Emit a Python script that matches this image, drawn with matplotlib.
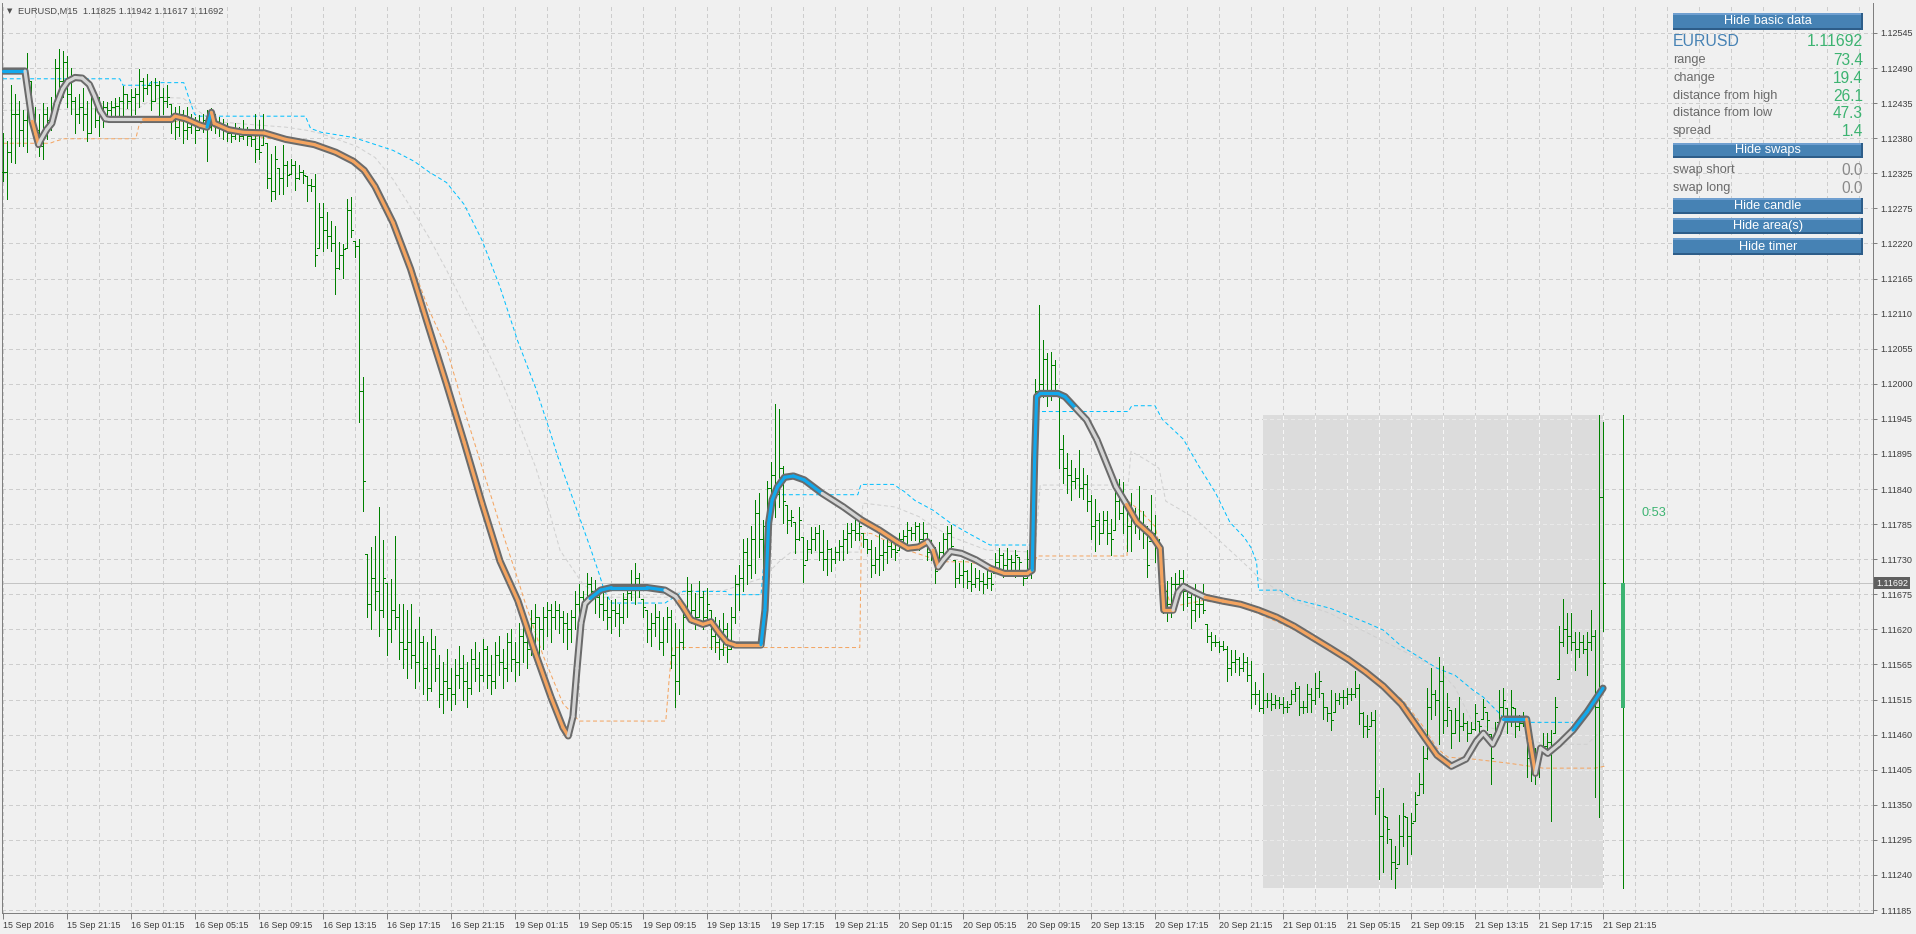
import numpy as np
import matplotlib
matplotlib.use("Agg")
import matplotlib.pyplot as plt
import matplotlib.transforms as mtransforms
from matplotlib.collections import LineCollection
from matplotlib.patches import Rectangle

plt.rcParams['font.family'] = ['Liberation Sans', 'DejaVu Sans']

# all prices are in points (0.00001) above BASE
BASE = 1.11

# M15 bars, index 0 = 15 Sep 17:15
high = [
    1390, 1378, 1465, 1450, 1440, 1425, 1514, 1470, 1430, 1420,
    1437, 1430, 1445, 1505, 1520, 1517, 1510, 1490, 1445, 1450,
    1460, 1440, 1465, 1450, 1445, 1440, 1438, 1440, 1444, 1446,
    1463, 1450, 1458, 1460, 1489, 1475, 1482, 1470, 1475, 1470,
    1460, 1465, 1435, 1430, 1432, 1425, 1430, 1420, 1415, 1418,
    1420, 1425, 1428, 1420, 1415, 1412, 1405, 1400, 1405, 1400,
    1410, 1400, 1395, 1420, 1410, 1420, 1374, 1358, 1369, 1335,
    1372, 1346, 1349, 1346, 1341, 1332, 1324, 1318, 1327, 1282,
    1282, 1268, 1254, 1246, 1221, 1218, 1288, 1290, 1223, 1226,
    1011, 737, 748, 765, 810, 759, 692, 698, 765, 660,
    660, 650, 660, 620, 640, 610, 600, 620, 610, 580,
    570, 590, 560, 575, 595, 580, 570, 590, 600, 585,
    605, 595, 580, 600, 610, 590, 615, 620, 600, 630,
    640, 625, 650, 660, 640, 655, 662, 660, 664, 660,
    648, 645, 650, 680, 690, 679, 707, 702, 697, 676,
    676, 670, 665, 668, 660, 676, 690, 712, 723, 707,
    668, 650, 645, 660, 648, 640, 655, 650, 630, 620,
    660, 702, 690, 676, 695, 680, 685, 650, 640, 635,
    645, 630, 655, 705, 720, 761, 762, 780, 821, 831,
    790, 850, 880, 969, 962, 873, 813, 805, 787, 810,
    764, 759, 779, 779, 782, 774, 759, 746, 748, 759,
    774, 785, 785, 790, 795, 769, 761, 759, 748, 769,
    759, 761, 759, 754, 769, 774, 787, 779, 787, 785,
    787, 769, 759, 748, 756, 769, 780, 782, 728, 723,
    728, 712, 723, 715, 712, 707, 712, 707, 738, 746,
    738, 746, 736, 743, 733, 712, 743, 760, 1009, 1123,
    1069, 1048, 1051, 1038, 990, 922, 893, 883, 870, 898,
    870, 859, 828, 822, 800, 803, 803, 791, 842, 853,
    848, 822, 831, 808, 842, 803, 780, 828, 797, 760,
    724, 695, 701, 707, 712, 712, 690, 678, 690, 678,
    690, 628, 616, 611, 602, 602, 594, 588, 588, 577,
    583, 577, 571, 538, 526, 552, 521, 521, 518, 515,
    515, 509, 526, 538, 532, 509, 535, 529, 552, 555,
    521, 500, 526, 521, 521, 526, 529, 529, 555, 535,
    492, 487, 492, 495, 371, 374, 329, 295, 284, 332,
    351, 329, 335, 368, 397, 439, 529, 560, 526, 577,
    563, 521, 495, 498, 515, 490, 478, 476, 504, 478,
    512, 492, 458, 476, 526, 529, 498, 526, 498, 487,
    492, 464, 436, 436, 436, 459, 459, 464, 515, 625,
    667, 645, 645, 616, 616, 611, 616, 650, 619, 953,
    942,
]
low = [
    1315, 1287, 1345, 1343, 1370, 1370, 1360, 1405, 1380, 1355,
    1350, 1380, 1395, 1420, 1440, 1445, 1430, 1420, 1390, 1405,
    1395, 1378, 1390, 1400, 1385, 1400, 1412, 1410, 1415, 1418,
    1418, 1428, 1417, 1420, 1430, 1440, 1450, 1425, 1440, 1410,
    1420, 1430, 1390, 1380, 1385, 1375, 1380, 1390, 1375, 1395,
    1392, 1346, 1395, 1390, 1385, 1380, 1378, 1376, 1380, 1378,
    1380, 1372, 1370, 1345, 1350, 1372, 1304, 1285, 1288, 1296,
    1296, 1307, 1327, 1302, 1318, 1313, 1285, 1300, 1184, 1212,
    1207, 1212, 1207, 1140, 1179, 1165, 1212, 1229, 1198, 941,
    804, 640, 620, 650, 610, 640, 580, 600, 620, 575,
    560, 545, 560, 530, 540, 520, 510, 525, 540, 500,
    490, 510, 495, 505, 530, 510, 500, 520, 540, 525,
    540, 530, 520, 530, 550, 530, 540, 555, 540, 550,
    570, 560, 580, 590, 580, 590, 610, 600, 620, 615,
    600, 590, 600, 620, 630, 630, 660, 665, 645, 640,
    635, 620, 615, 625, 610, 630, 640, 665, 660, 670,
    640, 600, 595, 610, 590, 580, 600, 560, 500, 520,
    590, 640, 630, 620, 640, 620, 630, 590, 585, 575,
    580, 570, 590, 630, 650, 680, 690, 700, 707, 733,
    707, 760, 780, 795, 810, 785, 770, 780, 738, 759,
    694, 728, 738, 743, 728, 712, 704, 710, 723, 728,
    728, 738, 748, 759, 759, 748, 738, 702, 707, 704,
    712, 723, 733, 728, 743, 748, 754, 759, 759, 743,
    748, 728, 728, 692, 720, 733, 743, 743, 686, 692,
    686, 684, 679, 686, 681, 676, 684, 681, 707, 715,
    702, 707, 704, 702, 707, 689, 700, 700, 740, 981,
    981, 966, 976, 991, 870, 847, 831, 821, 840, 826,
    823, 803, 760, 741, 752, 769, 752, 735, 774, 791,
    769, 741, 741, 769, 760, 746, 701, 757, 724, 718,
    645, 633, 639, 678, 678, 650, 656, 622, 633, 639,
    645, 600, 588, 594, 585, 588, 540, 549, 554, 549,
    555, 540, 498, 504, 493, 490, 500, 495, 498, 498,
    490, 492, 504, 509, 487, 490, 492, 492, 504, 515,
    481, 478, 464, 492, 504, 498, 504, 510, 515, 473,
    453, 453, 470, 334, 233, 244, 289, 233, 219, 256,
    284, 256, 272, 323, 363, 366, 419, 481, 487, 442,
    459, 470, 436, 459, 447, 464, 447, 459, 464, 459,
    481, 464, 380, 442, 476, 484, 459, 470, 453, 464,
    470, 391, 385, 380, 391, 430, 430, 323, 459, 543,
    594, 583, 588, 557, 577, 583, 549, 588, 360, 329,
    617,
]
close = [
    1330, 1360, 1420, 1420, 1395, 1410, 1470, 1420, 1395, 1370,
    1420, 1410, 1425, 1490, 1470, 1500, 1450, 1440, 1420, 1430,
    1420, 1390, 1445, 1410, 1425, 1430, 1425, 1430, 1432, 1440,
    1450, 1440, 1445, 1450, 1470, 1460, 1465, 1440, 1465, 1445,
    1440, 1445, 1410, 1400, 1420, 1395, 1400, 1410, 1395, 1405,
    1410, 1400, 1420, 1400, 1400, 1395, 1390, 1385, 1392, 1385,
    1395, 1385, 1380, 1365, 1360, 1390, 1320, 1300, 1350, 1320,
    1340, 1325, 1340, 1320, 1330, 1325, 1310, 1308, 1200, 1260,
    1240, 1230, 1220, 1180, 1200, 1210, 1270, 1240, 1215, 990,
    850, 660, 700, 680, 650, 700, 620, 650, 640, 600,
    590, 600, 580, 570, 600, 560, 530, 590, 560, 520,
    540, 530, 520, 550, 560, 540, 530, 575, 560, 550,
    590, 550, 540, 580, 570, 560, 600, 575, 570, 610,
    600, 590, 630, 640, 620, 640, 650, 640, 650, 640,
    630, 620, 640, 660, 670, 660, 690, 680, 670, 660,
    650, 640, 650, 645, 640, 668, 676, 690, 700, 690,
    655, 620, 630, 640, 600, 620, 640, 580, 540, 600,
    640, 680, 650, 640, 670, 640, 660, 610, 600, 590,
    620, 590, 640, 690, 700, 740, 720, 760, 800, 760,
    780, 840, 860, 830, 870, 820, 790, 795, 760, 790,
    720, 745, 760, 770, 740, 730, 745, 730, 740, 750,
    760, 770, 775, 770, 780, 760, 745, 720, 730, 735,
    740, 750, 745, 740, 760, 765, 775, 770, 780, 760,
    770, 740, 745, 710, 740, 760, 770, 750, 700, 705,
    710, 695, 690, 700, 695, 690, 700, 690, 725, 735,
    720, 730, 725, 735, 725, 700, 730, 750, 990, 1000,
    1040, 990, 1030, 1000, 900, 870, 860, 850, 855, 840,
    845, 820, 780, 790, 770, 790, 770, 760, 820, 800,
    820, 780, 790, 790, 780, 770, 720, 770, 750, 740,
    680, 660, 690, 690, 700, 680, 670, 650, 660, 660,
    650, 610, 600, 600, 595, 590, 560, 570, 575, 560,
    570, 550, 520, 520, 498, 510, 510, 505, 510, 505,
    500, 500, 520, 530, 500, 500, 520, 510, 530, 540,
    500, 490, 480, 510, 515, 515, 520, 520, 530, 490,
    470, 465, 480, 360, 300, 330, 310, 260, 250, 300,
    330, 300, 320, 350, 380, 420, 500, 520, 510, 540,
    480, 500, 460, 480, 470, 475, 460, 465, 490, 470,
    500, 480, 420, 460, 500, 510, 480, 500, 470, 475,
    480, 420, 410, 400, 420, 440, 445, 440, 500, 600,
    620, 610, 600, 590, 600, 590, 600, 610, 500, 825,
    692,
]

# thick trend line: vertices (bar index, points) and core colour of each segment
ma_x = [0, 5.5, 6.4, 7.3, 8.2, 8.9, 9.5, 10.9, 12.2, 13.5, 14.9, 16.2, 18, 19.8, 21.6, 22.9, 24.25,
        25.6, 26.5, 34.9, 42.1, 43, 45.7, 49.25, 51, 52.1, 52.8, 56.4, 60, 65.3, 70.7, 77.8, 83.2,
        87.6, 90.3, 93, 97.5, 101.9, 106.4, 110.9, 115.3, 119.8, 124.25, 128.7, 133, 137, 140,
        141.3, 142.5, 143.5, 144.5, 145.5, 146.75, 149.4, 152.1, 161, 165.5, 168.2, 169, 170, 172,
        175, 177, 179, 181, 183, 189.5, 190.5, 191.4, 192.3, 193.6, 195.4, 197.6, 200.3, 204.8,
        210.1, 214.6, 219.1, 223.5, 226.2, 228.9, 231.1, 232.5, 233.8, 235.1, 236.9, 239.6, 243.2,
        246.75, 250.3, 256.1, 257.3, 257.9, 258.4, 259.3, 263.7, 265.5, 268.2, 270.9, 273.5,
        278.2, 280.9, 283.5, 287.1, 289.3, 289.8, 290.2, 292.5, 293.8, 295.1, 297.8, 300.5, 305,
        309.4, 313.9, 318.4, 322.8, 327.3, 331.8, 336.2, 340.7, 345.1, 349.6, 354.1, 358.5, 362.1,
        365.7, 368.4, 370.1, 372.4, 373.8, 375.1, 380.9, 381.75, 383.1, 384.4, 386.2, 388.9,
        392.5, 396, 400]
ma_pts = [1486, 1486, 1447, 1408, 1388, 1372, 1380, 1395, 1405, 1436, 1458, 1470, 1476, 1475,
          1465, 1447, 1425, 1412, 1411, 1411, 1411, 1416, 1412, 1402, 1399, 1422, 1405, 1395, 1391,
          1390, 1380, 1372, 1360, 1346, 1332, 1307, 1251, 1179, 1089, 1000, 910, 815, 726, 665,
          585, 515, 468, 455, 485, 560, 630, 660, 668, 681, 685, 685, 681, 671, 664, 655, 635, 628,
          632, 615, 600, 596, 596, 650, 785, 821, 841, 856, 858, 852, 831, 810, 790, 774, 756, 746,
          748, 756, 743, 717, 728, 741, 738, 728, 715, 707, 707, 712, 883, 981, 986, 986, 981, 963,
          945, 914, 842, 814, 786, 766, 746, 690, 650, 650, 678, 687, 678, 670, 664, 659, 650, 639,
          625, 608, 591, 574, 554, 532, 504, 464, 425, 408, 419, 447, 459, 442, 459, 481, 481, 447,
          397, 436, 428, 442, 464, 492, 529]
ma_state = ("b" + "gg" + "oo" + "g" * 14 + "o" * 5 + "b" + "o" * 22 + "g" * 5 + "b" * 4 + "gg"
            + "o" * 8 + "b" * 8 + "gg" + "o" * 5 + "g" + "o" + "g" * 5 + "o" * 3 + "b" * 6
            + "g" * 4 + "o" * 6 + "g" * 4 + "o" * 14 + "g" * 6 + "b" + "oo" + "g" * 4 + "bbb")

# upper / lower / middle dotted bands
up_x = [0, 29.2, 30, 36.5, 36.8, 45.2, 46.6, 47.9, 48.8, 75.6, 76.9, 79.6, 87.6, 92.1, 97.5,
        102.8, 106.4, 110.9, 115.3, 119.8, 124.25, 128.7, 133.2, 136.75, 138.7, 143.2, 146.75, 149,
        150.3, 152.1, 165.5, 170, 180.7, 181.5, 189.5, 191, 192.5, 213.7, 214.5, 222.6, 225.3, 228,
        232.5, 236.9, 241.4, 246.75, 257.5, 258.5, 281.3, 282.2, 288, 289.8, 295.1, 298.7, 303.2,
        306.75, 310.3, 312.1, 313.4, 313.9, 319.25, 322.8, 331.75, 340.7, 345.1, 349.6, 354.1,
        358.5, 363, 367.5, 370.1, 372.8, 374.6, 375.5, 392.5]
up_pts = [1474, 1474, 1464, 1464, 1468, 1468, 1442, 1419, 1416, 1416, 1397, 1391, 1383, 1374,
          1363, 1346, 1330, 1313, 1279, 1223, 1151, 1067, 994, 927, 888, 810, 748, 707, 681, 661,
          661, 679, 679, 674, 674, 780, 829, 829, 845, 845, 834, 820, 805, 785, 769, 751, 751, 958,
          958, 967, 967, 946, 915, 876, 831, 786, 763, 746, 724, 681, 681, 667, 653, 631, 619, 594,
          577, 560, 549, 526, 515, 498, 487, 476, 476]
lo_x = [0, 11.75, 13, 15.3, 33.2, 34, 35, 45, 52, 60, 70, 80, 88, 95, 100, 103.7, 106.4, 110.9,
        115.3, 119.8, 124.25, 128.7, 130.3, 135, 140, 142.8, 144, 165.7, 166.5, 167.3, 214.2,
        214.6, 217, 220, 225, 230, 235, 241, 245, 250, 257, 258.5, 281, 281.3, 284.5, 288, 289.3,
        290, 292, 296, 300, 310, 320, 330, 340, 350, 355, 358.5, 361.2, 367.5, 376, 385, 398, 400.5]
lo_pts = [1374, 1374, 1377, 1381, 1381, 1402, 1408, 1408, 1400, 1388, 1378, 1368, 1350, 1290,
          1215, 1162, 1117, 1056, 961, 871, 782, 698, 666, 580, 505, 487, 478, 478, 540, 592, 592,
          769, 769, 760, 745, 735, 725, 725, 720, 708, 706, 734, 734, 819, 803, 780, 746, 700, 655,
          660, 665, 655, 628, 596, 560, 510, 470, 436, 422, 419, 413, 405, 405, 408]
mid_x = [0, 29, 33, 36.8, 40, 45, 48, 49.25, 52.8, 60, 70.7, 76, 79.6, 88.5, 93, 97.5, 102, 106.4,
         111, 115.3, 120, 124.25, 128.7, 133.2, 136.75, 139.25, 145, 150, 166, 170, 180, 190, 194,
         197, 214, 215, 223, 229, 232.5, 237, 246, 258, 259.3, 281.3, 282, 285.5, 289, 290.7,
         294.3, 297.8, 303.2, 307.6, 312.1, 313.9, 322.8, 331.8, 340.7, 349.6, 358.5, 363, 367.5,
         376.4, 385.3, 396, 399.7]
mid_pts = [1425, 1428, 1425, 1440, 1445, 1444, 1430, 1422, 1408, 1404, 1399, 1394, 1389, 1369,
           1352, 1318, 1274, 1229, 1176, 1123, 1067, 1011, 944, 871, 799, 743, 690, 670, 670, 680,
           680, 700, 725, 740, 740, 816, 810, 795, 780, 764, 743, 740, 844, 844, 896, 884, 870,
           819, 806, 793, 763, 738, 712, 700, 664, 645, 616, 588, 560, 530, 475, 460, 442, 442, 464]

time_labels = ['15 Sep 2016', '15 Sep 21:15', '16 Sep 01:15', '16 Sep 05:15', '16 Sep 09:15',
               '16 Sep 13:15', '16 Sep 17:15', '16 Sep 21:15', '19 Sep 01:15', '19 Sep 05:15',
               '19 Sep 09:15', '19 Sep 13:15', '19 Sep 17:15', '19 Sep 21:15', '20 Sep 01:15',
               '20 Sep 05:15', '20 Sep 09:15', '20 Sep 13:15', '20 Sep 17:15', '20 Sep 21:15',
               '21 Sep 01:15', '21 Sep 05:15', '21 Sep 09:15', '21 Sep 13:15', '21 Sep 17:15',
               '21 Sep 21:15']
price_labels = ['1.12545', '1.12490', '1.12435', '1.12380', '1.12325', '1.12275', '1.12220',
                '1.12165', '1.12110', '1.12055', '1.12000', '1.11945', '1.11895', '1.11840',
                '1.11785', '1.11730', '1.11675', '1.11620', '1.11565', '1.11515', '1.11460',
                '1.11405', '1.11350', '1.11295', '1.11240', '1.11185']

day_start = 315      # first bar of 21 Sep
candle_pos = 405     # where the daily candle is drawn
title_text = 'EURUSD,M15  1.11825 1.11942 1.11617 1.11692'
symbol, symbol_price = 'EURUSD', '1.11692'
info_rows = [('range', '73.4'), ('change', '19.4'), ('distance from high', '26.1'),
             ('distance from low', '47.3'), ('spread', '1.4')]
swap_rows = [('swap short', '0.0'), ('swap long', '0.0')]
timer_text = '0:53'


def price(p):
    return BASE + np.asarray(p, dtype=float) * 1e-5


W, H = 1916, 934
BG = '#f0f0f0'
GREEN = '#008000'
AXC = '#7f7f7f'
TXT = '#3c3c3c'
GRID = '#cdcdcd'
PX1W = 0.72   # one pixel in points

h = price(high)
l = price(low)
c = price(close)
o = np.clip(np.concatenate([[c[0]], c[:-1]]), l, h)
idx = np.arange(len(h))
last = len(h) - 1

fig = plt.figure(figsize=(W / 100, H / 100), dpi=100, facecolor=BG)
ax = fig.add_axes([2 / W, (H - 913) / H, 1871 / W, 910 / H], facecolor=BG)

# price scale: top label at px 33, bottom label at px 910
p_top, p_bot = float(price_labels[0]), float(price_labels[-1])
pxp = (910 - 33) / (p_top - p_bot)
ax.set_xlim(-0.25, 467.5)
ax.set_ylim(p_bot - 3 / pxp, p_top + 30 / pxp)
ypos = np.linspace(p_top, p_bot, len(price_labels))

dash = (0, (4, 4))
for gx in range(0, 468, 8):
    ax.axvline(gx, color=GRID, lw=PX1W, ls=dash, antialiased=False, zorder=1)
for gy in ypos:
    ax.axhline(gy, color=GRID, lw=PX1W, ls=dash, antialiased=False, zorder=1)

# today's range area
d_high, d_low = h[day_start:].max(), l[day_start:].min()
d_open = c[day_start - 1]
ax.add_patch(Rectangle((day_start, d_low), last - day_start, d_high - d_low,
                       fc='#dcdcdc', ec='none', zorder=1.2))
for gx in range(320, last + 1, 8):
    ax.plot([gx, gx], [d_low, d_high], color='#f7f7f7', lw=PX1W, ls=dash,
            antialiased=False, zorder=1.3)
for gy in ypos[(ypos > d_low) & (ypos < d_high)]:
    ax.plot([day_start, last], [gy, gy], color='#e9e9e9', lw=PX1W, ls=dash,
            antialiased=False, zorder=1.3)

ax.axhline(c[-1], color='#c4c4c4', lw=PX1W, zorder=1.5)

# bands
band_dash = (0, (4, 2.8))
ax.plot(mid_x, price(mid_pts), color='#d0d0d0', lw=PX1W, ls=band_dash, zorder=2)
ax.plot(up_x, price(up_pts), color='#00bfff', lw=PX1W, ls=band_dash, zorder=2.5)
ax.plot(lo_x, price(lo_pts), color='#f4a460', lw=PX1W, ls=band_dash, zorder=2.5)

# bars
BW = PX1W
ax.vlines(idx, l, h, colors=GREEN, lw=BW, antialiased=False, zorder=3)
ax.hlines(o, idx - 0.45, idx, colors=GREEN, lw=BW, antialiased=False, zorder=3)
ax.hlines(c, idx, idx + 0.45, colors=GREEN, lw=BW, antialiased=False, zorder=3)

# daily candle
ax.vlines(candle_pos, d_low, d_high, colors=GREEN, lw=BW, antialiased=False, zorder=3)
ax.add_patch(Rectangle((candle_pos - 0.4, d_open), 0.8, c[-1] - d_open,
                       fc='#3cb371', ec='none', zorder=3.1))

# thick trend line
ma_p = price(ma_pts)
ax.plot(ma_x, ma_p, color='#6b6b6b', lw=5.2, solid_joinstyle='round',
        solid_capstyle='round', zorder=5)
core = {'g': '#d4d4d4', 'o': '#f4a460', 'b': '#12a8ec'}
segs = [[(ma_x[k], ma_p[k]), (ma_x[k + 1], ma_p[k + 1])] for k in range(len(ma_x) - 1)]
cols = [core[s] for s in ma_state[:len(segs)]]
ax.add_collection(LineCollection(segs, colors=cols, linewidths=2.3, capstyle='round',
                                 joinstyle='round', zorder=6))

# axes look
for side in ['left', 'bottom', 'right']:
    ax.spines[side].set_color(AXC)
    ax.spines[side].set_linewidth(PX1W)
ax.spines['top'].set_visible(False)

ax.yaxis.tick_right()
ax.set_yticks(ypos)
ax.set_yticklabels(price_labels)
ax.tick_params(axis='y', direction='out', length=3, width=PX1W, color=AXC, pad=2,
               labelsize=6.5, labelcolor=TXT)
ax.set_xticks(range(0, 16 * len(time_labels), 16))
ax.set_xticklabels(time_labels, ha='left')
ax.tick_params(axis='x', direction='out', length=4, width=PX1W, color=AXC, pad=1.5,
               labelsize=6.4, labelcolor=TXT)

trans = mtransforms.blended_transform_factory(ax.transAxes, ax.transData)
ax.text(1 + 3 / 1871, c[-1], '{:.5f}'.format(c[-1]), transform=trans, ha='left', va='center',
        fontsize=6.5, color='white', clip_on=False, zorder=10,
        bbox=dict(boxstyle='square,pad=0.18', fc='#5f5f5f', ec='none'))


def fx(px):
    return px / W


def fy(py):
    return 1 - py / H


# title
fig.text(fx(10), fy(11), '\u25bc', fontsize=5, color='#505050', ha='center', va='center',
         family='DejaVu Sans')
fig.text(fx(18), fy(11), title_text, fontsize=6.7, color='#4a4a4a', ha='left', va='center')

# timer
fig.text(fx(1641), fy(513), timer_text, fontsize=9.2, color='#3cb371', ha='left', va='center')

# info panel
PX0, PXR = 1673, 1863


def button(top, bottom, label):
    fig.patches.append(Rectangle((fx(PX0), fy(bottom)), (PXR - PX0) / W, (bottom - top) / H,
                                 transform=fig.transFigure, fc='#4682b4', ec='none', zorder=5))
    fig.patches.append(Rectangle((fx(PX0), fy(top + 2)), (PXR - PX0) / W, 2 / H,
                                 transform=fig.transFigure, fc='#6f9fd0', ec='none', zorder=6))
    fig.patches.append(Rectangle((fx(PX0), fy(bottom)), (PXR - PX0) / W, 2 / H,
                                 transform=fig.transFigure, fc='#2d5d89', ec='none', zorder=6))
    fig.patches.append(Rectangle((fx(PXR - 2), fy(bottom)), 2 / W, (bottom - top) / H,
                                 transform=fig.transFigure, fc='#2d5d89', ec='none', zorder=6))
    fig.text(fx((PX0 + PXR) / 2), fy((top + bottom) / 2), label, fontsize=9.2, color='white',
             ha='center', va='center', zorder=7)


button(13, 30, 'Hide basic data')
fig.text(fx(PX0), fy(42), symbol, fontsize=11.4, color='#4682b4', ha='left', va='center')
fig.text(fx(PXR), fy(42), symbol_price, fontsize=11.4, color='#3cb371', ha='right', va='center')
for k, (name, val) in enumerate(info_rows):
    yy = 60 + 17.8 * k
    fig.text(fx(PX0), fy(yy), name, fontsize=9.2, color='#6a6a6a', ha='left', va='center')
    fig.text(fx(PXR), fy(yy + 0.5), val, fontsize=11.2, color='#3cb371', ha='right', va='center')
button(143, 158, 'Hide swaps')
for k, (name, val) in enumerate(swap_rows):
    yy = 170 + 17.8 * k
    fig.text(fx(PX0), fy(yy), name, fontsize=9.2, color='#6a6a6a', ha='left', va='center')
    fig.text(fx(PXR), fy(yy + 0.5), val, fontsize=11.2, color='#8a8a8a', ha='right', va='center')
button(198, 214, 'Hide candle')
button(218, 234, 'Hide area(s)')
button(238, 255, 'Hide timer')

fig.savefig('out.png', dpi=100, facecolor=BG)
